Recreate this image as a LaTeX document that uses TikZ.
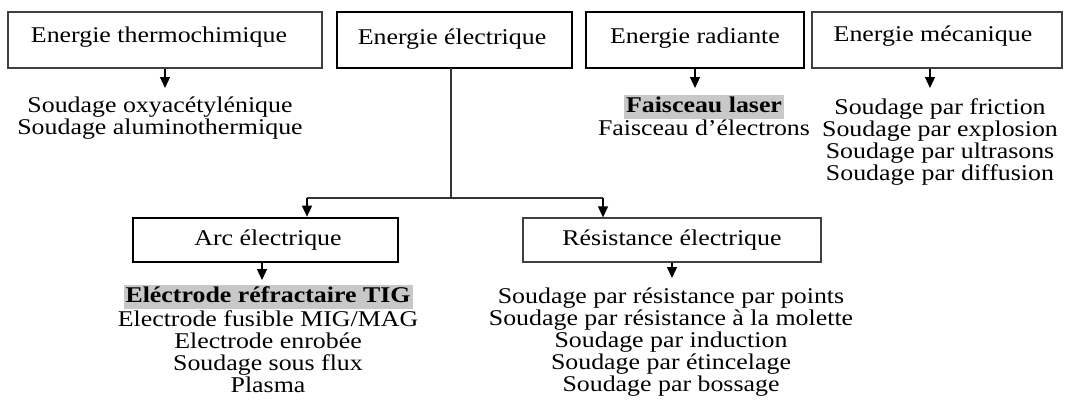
\documentclass[tikz,border=0pt]{standalone}
\usepackage{fontspec}
\setmainfont{Liberation Serif}[FakeStretch=1.15]
\usetikzlibrary{arrows.meta}
\definecolor{hl}{HTML}{C8C8C8}
\tikzset{
  txtfont/.style={font=\fontsize{22.5}{22}\selectfont},
  thinbox/.style={draw=black!75, line width=1.3pt, inner sep=0pt},
  thickbox/.style={draw=black, line width=2.6pt, inner sep=0pt},
  listtxt/.style={align=center, inner sep=0pt, txtfont},
  hltxt/.style={fill=hl, inner xsep=2pt, inner ysep=1.5pt, text height=16pt, text depth=5pt, font=\fontsize{22.5}{22}\selectfont\bfseries},
  arr/.style={line width=1.2pt, -{Triangle[width=10pt,length=11pt]}},
  conn/.style={line width=1.2pt, draw=black!80},
}
\begin{document}
\begin{tikzpicture}[x=1pt,y=-1pt]
\useasboundingbox (0,0) rectangle (1071,415);
% top boxes
\node[thinbox, minimum width=314pt, minimum height=56pt] (thermo) at (165,40) {};
\node[thickbox, minimum width=235pt, minimum height=56pt] (elec) at (454.5,40) {};
\node[thickbox, minimum width=218pt, minimum height=56pt] (rad) at (695,40) {};
\node[thinbox, minimum width=250pt, minimum height=56pt] (meca) at (937,40) {};
\node[listtxt] (thermoT) at (159,37) {Energie thermochimique};
\node[listtxt] (elecT) at (452,39) {Energie électrique};
\node[listtxt] (radT) at (695,38) {Energie radiante};
\node[listtxt] (mecaT) at (933,36) {Energie mécanique};
% lower boxes
\node[thickbox, minimum width=265pt, minimum height=44pt] (arc) at (265.5,240) {};
\node[thinbox, minimum width=298pt, minimum height=44pt] (res) at (672,240) {};
\node[listtxt] (arcT) at (268,240) {Arc électrique};
\node[listtxt] (resT) at (672,240) {Résistance électrique};
% lists
\node[listtxt, anchor=north] (thermoL) at (160,97) {Soudage oxyacétylénique\\Soudage aluminothermique};
\node[hltxt] (radHL) at (704,107) {Faisceau laser};
\node[listtxt, anchor=north] (radL) at (704,119.5) {Faisceau d’électrons};
\node[listtxt, anchor=north] (mecaL) at (940,98) {Soudage par friction\\Soudage par explosion\\Soudage par ultrasons\\Soudage par diffusion};
\node[hltxt] (arcHL) at (268,297) {Eléctrode réfractaire TIG};
\node[listtxt, anchor=north] (arcL) at (268,310) {Electrode fusible MIG/MAG\\Electrode enrobée\\Soudage sous flux\\Plasma};
\node[listtxt, anchor=north] (resL) at (671,288) {Soudage par résistance par points\\Soudage par résistance à la molette\\Soudage par induction\\Soudage par étincelage\\Soudage par bossage};
% connectors
\coordinate (vtop) at (451,68);
\coordinate (vjoin) at (451,198);
\coordinate (jarc) at (307,198);
\coordinate (jres) at (603,198);
\draw[conn] (vtop) -- (vjoin);
\draw[conn] (jarc) -- (jres);
\draw[arr] (jarc) -- (jarc |- arc.north);
\draw[arr] (jres) -- (jres |- res.north);
\draw[arr] (thermo.south -| 165,0) -- (165,88);
\draw[arr] (rad.south -| 695,0) -- (695,88);
\draw[arr] (meca.south -| 930,0) -- (930,88);
\draw[arr] (arc.south -| 262,0) -- (262,280);
\draw[arr] (res.south -| 672,0) -- (672,278);
\end{tikzpicture}
\end{document}
